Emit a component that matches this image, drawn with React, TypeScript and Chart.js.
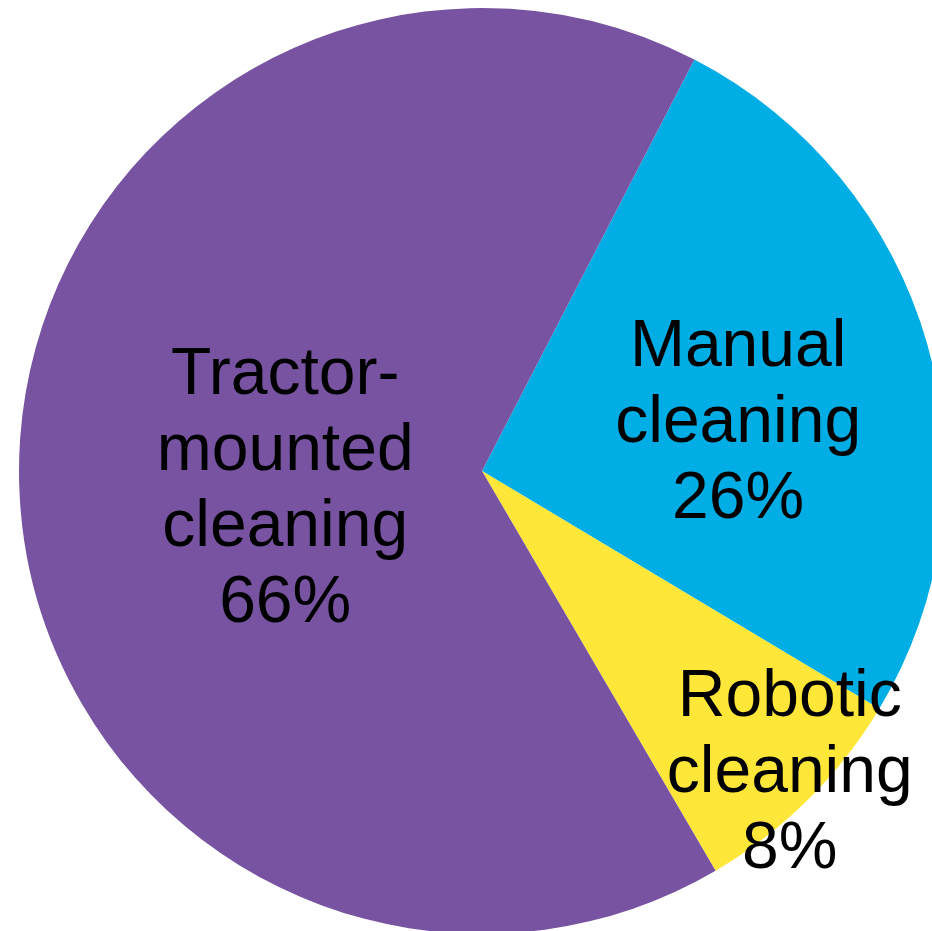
import React, { useEffect, useRef } from "react";
import { Chart, registerables } from "chart.js";

Chart.register(...registerables);

const categories: string[] = ["Manual cleaning", "Robotic cleaning", "Tractor-mounted cleaning"];
const labelLines: string[][] = [
  ["Manual", "cleaning"],
  ["Robotic", "cleaning"],
  ["Tractor-", "mounted", "cleaning"],
];
const shares: number[] = [26, 8, 66];
const colors: string[] = ["#00ADE4", "#FFE73A", "#7753A1"];

// label placement: [radial fraction, angle tweak in degrees]
const labelPlacement: [number, number][] = [
  [0.565, 4.2],
  [0.924, -1.3],
  [0.426, -2.3],
];

const FONT_SIZE = 66;
const LINE_H = 76;

const labelPlugin = {
  id: "pieLabels",
  afterDatasetsDraw(chart: any) {
    const ctx = chart.ctx;
    const meta = chart.getDatasetMeta(0);
    const total = shares.reduce((a, b) => a + b, 0);
    ctx.save();
    ctx.font = `${FONT_SIZE}px "Liberation Sans", Arial, sans-serif`;
    ctx.fillStyle = "#000000";
    ctx.textAlign = "center";
    ctx.textBaseline = "alphabetic";
    meta.data.forEach((arc: any, i: number) => {
      const { x, y, startAngle, endAngle, outerRadius } = arc.getProps(
        ["x", "y", "startAngle", "endAngle", "outerRadius"],
        true
      );
      const [frac, tweak] = labelPlacement[i];
      const mid = (startAngle + endAngle) / 2 + (tweak * Math.PI) / 180;
      const cx = x + Math.cos(mid) * outerRadius * frac;
      const cy = y + Math.sin(mid) * outerRadius * frac;
      const lines = [...labelLines[i], `${Math.round((shares[i] / total) * 100)}%`];
      const n = lines.length;
      const capHalf = FONT_SIZE * 0.716 / 2;
      lines.forEach((ln, k) => {
        const by = cy + capHalf + (k - (n - 1) / 2) * LINE_H;
        ctx.fillText(ln, cx, by);
      });
    });
    ctx.restore();
  },
};

export default function App() {
  const canvasRef = useRef<HTMLCanvasElement | null>(null);

  useEffect(() => {
    if (!canvasRef.current) return;
    const chart = new Chart(canvasRef.current, {
      type: "pie",
      data: {
        labels: categories,
        datasets: [
          {
            data: shares,
            backgroundColor: colors,
            borderWidth: 0,
            hoverOffset: 0,
          },
        ],
      },
      options: {
        animation: false,
        responsive: false,
        maintainAspectRatio: false,
        rotation: 27.3,
        layout: { padding: 8 },
        plugins: {
          legend: { display: false },
          tooltip: { enabled: false },
        },
        events: [],
      },
      plugins: [labelPlugin],
    });
    return () => chart.destroy();
  }, []);

  return (
    <div
      style={{
        position: "fixed",
        left: 0,
        top: 0,
        width: 932,
        height: 931,
        overflow: "hidden",
        background: "#ffffff",
      }}
    >
      <canvas
        ref={canvasRef}
        width={964}
        height={942}
        style={{ position: "absolute", left: 0, top: 0, width: 964, height: 942 }}
      />
    </div>
  );
}
